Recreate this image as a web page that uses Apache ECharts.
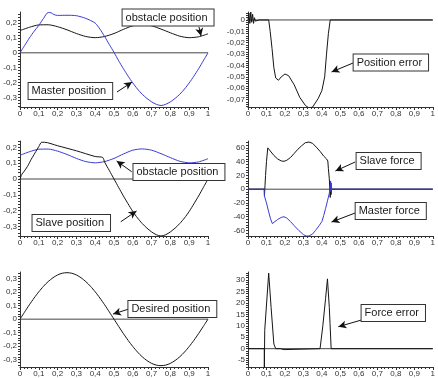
<!DOCTYPE html>
<html><head><meta charset="utf-8">
<script src="https://cdn.jsdelivr.net/npm/echarts@6/dist/echarts.min.js"></script>
<style>html,body{margin:0;padding:0;background:#fff}#c{width:438px;height:378px}</style>
</head><body><div id="c"></div>
<script>
// ---------- data ----------
const obstaclePosition = [[0,0.150],[0.05,0.172],[0.1,0.188],[0.15,0.189],[0.2,0.176],[0.25,0.155],[0.3,0.130],[0.35,0.110],[0.4,0.102],[0.45,0.110],[0.5,0.130],[0.55,0.158],[0.6,0.182],[0.65,0.190],[0.7,0.182],[0.75,0.160],[0.8,0.135],[0.85,0.112],[0.9,0.102],[0.95,0.108],[1,0.128]];
const masterPosition = [[0,0],[0.025,0.05],[0.05,0.1],[0.075,0.145],[0.1,0.185],[0.125,0.232],[0.15,0.272],[0.165,0.27],[0.18,0.258],[0.2,0.252],[0.25,0.253],[0.3,0.25],[0.35,0.232],[0.4,0.2],[0.425,0.16],[0.45,0.11],[0.475,0.056],[0.5,0.003],[0.525,-0.054],[0.55,-0.107],[0.575,-0.157],[0.6,-0.203],[0.625,-0.244],[0.65,-0.279],[0.675,-0.307],[0.7,-0.330],[0.725,-0.347],[0.75,-0.355],[0.775,-0.347],[0.8,-0.330],[0.825,-0.307],[0.85,-0.279],[0.875,-0.244],[0.9,-0.203],[0.925,-0.157],[0.95,-0.107],[0.975,-0.054],[1,0]];
const slavePosition = [[0,0],[0.01,0.03],[0.02,0.045],[0.04,0.08],[0.06,0.125],[0.08,0.165],[0.1,0.205],[0.115,0.232],[0.13,0.232],[0.2,0.21],[0.3,0.178],[0.4,0.142],[0.44,0.136],[0.45,0.107],[0.475,0.054],[0.5,0],[0.525,-0.054],[0.55,-0.107],[0.575,-0.157],[0.6,-0.205],[0.625,-0.246],[0.65,-0.281],[0.675,-0.31],[0.7,-0.334],[0.725,-0.352],[0.75,-0.36],[0.775,-0.352],[0.8,-0.334],[0.825,-0.31],[0.85,-0.281],[0.875,-0.246],[0.9,-0.205],[0.925,-0.157],[0.95,-0.107],[0.975,-0.054],[1,0]];
const positionError = [[0,0],[0.005,0.006],[0.01,-0.003],[0.015,0.007],[0.02,-0.002],[0.025,0.005],[0.03,-0.003],[0.035,0.002],[0.04,-0.001],[0.05,-0.0005],[0.06,0],[0.112,0],[0.12,-0.01],[0.13,-0.025],[0.14,-0.042],[0.15,-0.051],[0.165,-0.053],[0.18,-0.05],[0.2,-0.0475],[0.22,-0.049],[0.25,-0.057],[0.28,-0.068],[0.31,-0.075],[0.33,-0.0775],[0.35,-0.0765],[0.38,-0.069],[0.4,-0.062],[0.415,-0.05],[0.425,-0.03],[0.435,-0.012],[0.445,0],[1,0]];
const slaveForce = [[0,0],[0.088,0],[0.089,-10],[0.092,5],[0.095,20],[0.1,40],[0.107,60],[0.112,59],[0.125,54],[0.14,49],[0.16,44],[0.18,41],[0.195,40.5],[0.21,42],[0.23,46],[0.25,52],[0.27,58],[0.29,63],[0.31,67.5],[0.33,68.5],[0.35,66.5],[0.37,61],[0.39,55],[0.41,48],[0.425,44],[0.432,41],[0.435,30],[0.44,15],[0.445,-12],[0.447,10],[0.449,-8],[0.452,0],[1,0]];
const masterForce = [[0,0],[0.088,0],[0.089,-10],[0.1,-20],[0.112,-33],[0.122,-43],[0.132,-50],[0.142,-48],[0.16,-44],[0.18,-41],[0.195,-40],[0.21,-42],[0.23,-47],[0.25,-53],[0.275,-60],[0.3,-66],[0.315,-68],[0.33,-68],[0.35,-65],[0.365,-60],[0.385,-53],[0.4,-47],[0.41,-38],[0.42,-28],[0.43,-17],[0.44,-6],[0.445,5],[0.447,12],[0.449,-4],[0.451,9],[0.453,0],[1,0]];
const desiredPosition = [[0,0],[0.025,0.054],[0.05,0.107],[0.075,0.157],[0.1,0.203],[0.125,0.244],[0.15,0.279],[0.175,0.307],[0.2,0.328],[0.225,0.341],[0.25,0.345],[0.275,0.341],[0.3,0.328],[0.325,0.307],[0.35,0.279],[0.375,0.244],[0.4,0.203],[0.425,0.157],[0.45,0.107],[0.475,0.054],[0.5,0],[0.525,-0.054],[0.55,-0.107],[0.575,-0.157],[0.6,-0.203],[0.625,-0.244],[0.65,-0.279],[0.675,-0.307],[0.7,-0.328],[0.725,-0.341],[0.75,-0.345],[0.775,-0.341],[0.8,-0.328],[0.825,-0.307],[0.85,-0.279],[0.875,-0.244],[0.9,-0.203],[0.925,-0.157],[0.95,-0.107],[0.975,-0.054],[1,0]];
const forceError = [[0,0],[0.088,0],[0.0885,-9],[0.089,-9],[0.0905,8],[0.112,33],[0.125,18],[0.14,2],[0.15,0],[0.175,0],[0.18,-0.4],[0.195,-0.4],[0.2,0],[0.39,0],[0.405,10],[0.42,22],[0.43,30.5],[0.434,30],[0.44,18],[0.444,11],[0.45,0],[1,0]];
const zeroLine = [[0,0],[1,0]];

// tick labels
const xTickLabels = [0,0.1,0.2,0.3,0.4,0.5,0.6,0.7,0.8,0.9,1];
const yLabels1 = [-0.3,-0.2,-0.1,0,0.1,0.2];
const yLabels2 = [-0.07,-0.06,-0.05,-0.04,-0.03,-0.02,-0.01,0];
const yLabels3 = [-0.3,-0.2,-0.1,0,0.1,0.2];
const yLabels4 = [-60,-40,-20,0,20,40,60];
const yLabels5 = [-0.3,-0.2,-0.1,0,0.1,0.2,0.3];
const yLabels6 = [-5,0,5,10,15,20,25,30];

// annotations: [panel, text, boxAnchor(x,y), arrowFrom(x,y), arrowTo(x,y)] in data units
const notes = [
  [0,'obstacle position',[0.543,0.238],[0.952,0.174],[0.963,0.113]],
  [0,'Master position',[0.043,-0.257],[0.516,-0.264],[0.596,-0.197]],
  [1,'Position error',[0.569,-0.0374],[0.569,-0.0378],[0.452,-0.0457]],
  [2,'obstacle position',[0.601,0.044],[0.594,0.046],[0.514,0.114]],
  [2,'Slave position',[0.064,-0.278],[0.536,-0.27],[0.62,-0.202]],
  [3,'Slave force',[0.585,40.9],[0.58,39.5],[0.473,26.4]],
  [3,'Master force',[0.58,-31.7],[0.58,-34.6],[0.452,-47.7]],
  [4,'Desired position',[0.574,0.075],[0.574,0.073],[0.495,0.038]],
  [5,'Force error',[0.612,15.6],[0.613,12.5],[0.489,9.6]]
];

// ---------- layout ----------
const BLUE = '#3b3bd6', BLACK = '#151515';
const grids = [
  {left:20, top:12, width:188, height:95}, {left:248, top:12, width:188, height:95},
  {left:20, top:141, width:188, height:95}, {left:248, top:141, width:188, height:95},
  {left:20, top:272, width:188, height:95}, {left:248, top:272, width:188, height:95}
];
const yRanges = [[-0.365,0.275,yLabels1,0.02],[-0.0765,0.007,yLabels2,0.002],[-0.36,0.24,yLabels3,0.02],[-68,70,yLabels4,4],[-0.355,0.35,yLabels5,0.02],[-8,33.5,yLabels6,1]];
const fmt = v => String(+(+v).toFixed(3)).replace('.', ',');
const axisCol = '#333';
const lblStyle = {fontSize:8, color:'#333', fontFamily:'Liberation Sans', margin:3};

const xAxes = grids.map((g,i)=>({type:'value', gridIndex:i, min:0, max:1, interval:0.1,
  axisLine:{show:true, onZero:false, lineStyle:{color:axisCol}},
  axisTick:{show:true, length:3, lineStyle:{color:axisCol}},
  minorTick:{show:true, splitNumber:5, length:2, lineStyle:{color:axisCol}},
  axisLabel:Object.assign({formatter:fmt, showMinLabel:true, showMaxLabel:true, customValues:xTickLabels}, lblStyle),
  splitLine:{show:false}, minorSplitLine:{show:false}}));

const yAxes = yRanges.map((r,i)=>{
  const [mn,mx,labs,step] = r;
  const ticks=[]; for(let k=Math.ceil(mn/step); k*step<=mx+1e-9; k++) ticks.push(+(k*step).toFixed(4));
  return {type:'value', gridIndex:i, min:mn, max:mx,
    axisLine:{show:true, onZero:false, lineStyle:{color:axisCol}},
    axisTick:{show:true, length:2, customValues:ticks, lineStyle:{color:axisCol}},
    axisLabel:Object.assign({formatter:fmt, customValues:labs}, lblStyle),
    splitLine:{show:false}};
});

function line(i, data, color, z, smooth){
  return {type:'line', xAxisIndex:i, yAxisIndex:i, data, showSymbol:false, symbol:'none',
    smooth: smooth ? 0.25 : false, z,
    lineStyle:{color, width:1}, itemStyle:{color}, animation:false, silent:true};
}
const series = [];
for(let i=0;i<6;i++) series.push(line(i, zeroLine, '#444', 1, false));
series.push(line(0, obstaclePosition, BLACK, 2, true));
series.push(line(0, masterPosition, BLUE, 3, true));
series.push(line(1, positionError, BLACK, 2, false));
series.push(line(2, obstaclePosition, BLUE, 2, true));
series.push(line(2, slavePosition, BLACK, 3, true));
series.push(line(3, slaveForce, BLACK, 2, false));
series.push(line(3, masterForce, BLUE, 3, false));
series.push(line(4, desiredPosition, BLACK, 2, true));
series.push(line(5, forceError, BLACK, 2, false));

for(let i=0;i<6;i++){
  const mine = notes.filter(n=>n[0]===i);
  series.push({type:'line', xAxisIndex:i, yAxisIndex:i, data:[], z:10, animation:false, silent:true,
    markLine:{silent:true, animation:false, symbol:['none','arrow'], symbolSize:[6,8], precision:6,
      lineStyle:{color:'#111', width:1, type:'solid'}, label:{show:false},
      data: mine.map(n=>[{coord:n[3]},{coord:n[4]}])},
    markPoint:{silent:true, animation:false,
      data: mine.map(n=>({coord:n[2], symbol:'rect', symbolSize:1, itemStyle:{color:'rgba(0,0,0,0)'},
        label:{show:true, position:'right', distance:0, formatter:n[1], fontSize:11, fontFamily:'Liberation Sans',
          color:'#1a1a1a', backgroundColor:'#fff', borderColor:'#333', borderWidth:1, padding:[3,6,2,3]}}))}
  });
}

const chart = echarts.init(document.getElementById('c'), null, {renderer:'canvas'});
chart.setOption({animation:false, backgroundColor:'#fff', grid:grids, xAxis:xAxes, yAxis:yAxes, series});
</script></body></html>
